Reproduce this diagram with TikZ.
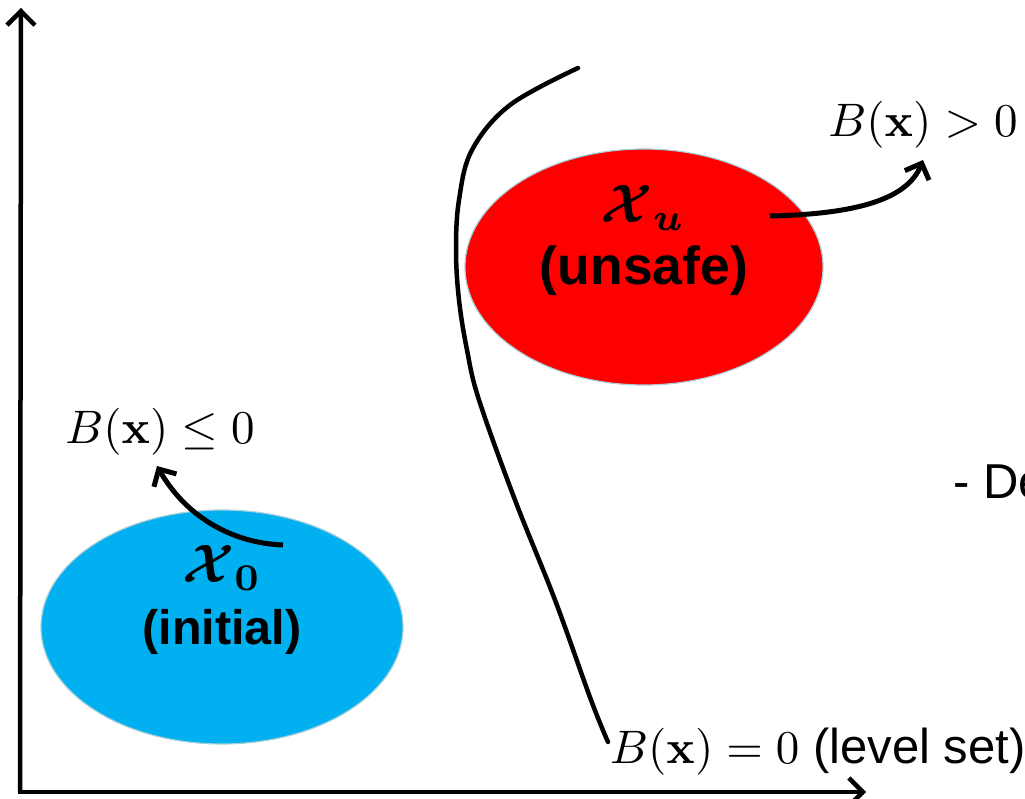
\documentclass[tikz,border=0pt]{standalone}
\usepackage{amsmath,bm,graphicx}
\usepackage[no-math]{fontspec}
\setmainfont{Liberation Sans}
\usetikzlibrary{arrows.meta,shapes.geometric}
\definecolor{cyanfill}{HTML}{00B0F0}
\definecolor{redfill}{HTML}{FF0000}
\definecolor{rim}{HTML}{A9CFD9}
\newcommand{\scaledmath}[2]{\scalebox{#1}{\fontsize{10}{12}\selectfont$#2$}}
\tikzset{
  axisline/.style={line width=4.5pt,-{Straight Barb[length=14pt,width=28pt]}},
  bentarrow/.style={line width=5pt,-{Straight Barb[length=13pt,width=26pt]}},
  levelline/.style={line width=4.5pt,line cap=round},
  region/.style={ellipse,draw=rim,line width=1.2pt,inner sep=0pt},
  mathlbl/.style={inner sep=0pt,font=\fontsize{49}{54}\selectfont},
  setsym/.style={inner sep=0pt},
  setname/.style={inner sep=0pt,font=\bfseries},
}
\begin{document}
\begin{tikzpicture}[x=1pt,y=-1pt]
\useasboundingbox (0,0) rectangle (1025,799);
\clip (0,0) rectangle (1025,799);
% axes
\coordinate (origin) at (20,792);
\coordinate (ytip) at (21,8);
\coordinate (xtip) at (866,792);
\draw[axisline] (origin) -- (ytip);
\draw[axisline] ([xshift=-2pt]origin) -- (xtip);
% regions
\node[region,fill=cyanfill,minimum width=362pt,minimum height=234pt] (init) at (222,627) {};
\node[region,fill=redfill,minimum width=358pt,minimum height=236pt] (unsafe) at (644,267) {};
\node[setsym] (x0) at (222,568) {\scaledmath{5.4}{\bm{\mathcal{X}}_{\mathbf{0}}}};
\node[setname,font=\fontsize{48.5}{54}\selectfont\bfseries] (initlbl) at (222,632) {(initial)};
\node[setsym] (xu) at (643,208) {\scaledmath{5.4}{\bm{\mathcal{X}}_{\bm{u}}}};
\node[setname,font=\fontsize{53.5}{58}\selectfont\bfseries] (unsafelbl) at (644,271) {(unsafe)};
% labels
\node[mathlbl] (neg) at (160,432) {\scaledmath{4.7}{B(\mathbf{x})\leq 0}};
\node[mathlbl] (pos) at (923,125) {\scaledmath{4.7}{B(\mathbf{x})>0}};
\node[mathlbl,anchor=west] (lvl) at (610,752) {\scaledmath{4.7}{B(\mathbf{x})=0} (level set)};
\node[mathlbl,anchor=west] (dec) at (953,482) {- De};
% level set curve
\coordinate (lstop) at (578,68);
\coordinate (lsbot) at (608,742);
\draw[levelline] plot[smooth,tension=0.6] coordinates {(lstop) (510,105) (472,150) (459,200) (456,250) (459,300) (467,350) (479,400) (515,500) (555,600) (591,700) (lsbot)};
% arrows
\coordinate (x0start) at (283,545);
\coordinate (negtip) at (157,466);
\draw[bentarrow] (x0start) .. controls (230,543) and (185,515) .. (negtip);
\coordinate (xustart) at (770,216);
\coordinate (postip) at (923,160);
\draw[bentarrow] (xustart) .. controls (860,214) and (908,198) .. (postip);
\end{tikzpicture}
\end{document}
